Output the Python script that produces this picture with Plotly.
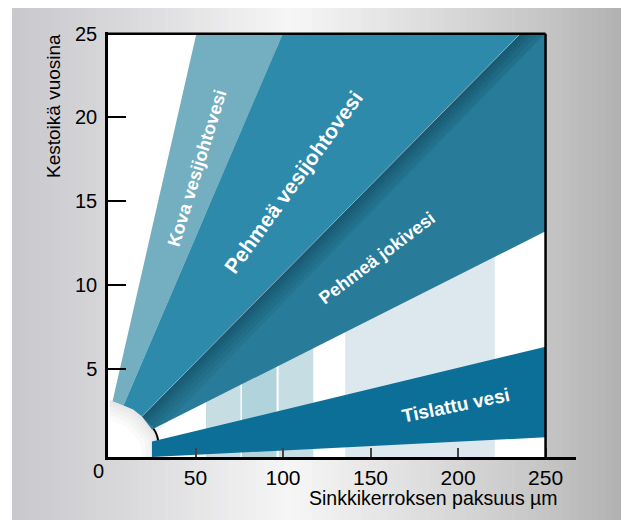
import plotly.graph_objects as go
import numpy as np

# ---------------- data ----------------
x_ticks = [50, 100, 150, 200, 250]
y_ticks = [5, 10, 15, 20, 25]

# background pale bands (x ranges, colours)
band_x0 = [56.0, 76.5, 97.5, 135.5]
band_x1 = [75.7, 96.3, 117.3, 221.0]
band_col = ["#c6dde4", "#b0d3dc", "#c6dde4", "#dce8ee"]

# wedges (polygon vertices in data units)
kova_x = [2.6, 50.5, 99.9, 8.85]
kova_y = [3.05, 25.0, 25.0, 2.8]
pveden_x = [8.85, 99.9, 235.6, 19.4, 14.3]
pveden_y = [2.8, 25.0, 25.0, 2.14, 2.56]
joki_x = [19.4, 235.6, 250.0, 250.0, 25.1]
joki_y = [2.14, 25.0, 25.0, 13.2, 1.36]
tisl_x = [25.1, 250.0, 250.0, 25.1]
tisl_y = [0.64, 6.3, 0.9, -0.28]

# inner arc near origin
arc_x = [1.0, 2.6, 8.85, 14.3, 19.4, 25.1, 27.6, 28.6, 29.2]
arc_y = [3.15, 3.05, 2.8, 2.56, 2.14, 1.36, 1.12, 0.72, -0.28]
blackarc_x = [25.4, 27.1, 28.3, 28.9]
blackarc_y = [1.47, 1.22, 0.88, 0.45]

labels = ["Kova vesijohtovesi", "Pehmeä vesijohtovesi", "Pehmeä jokivesi", "Tislattu vesi"]
lab_x = [50.8, 105.8, 153.8, 198.3]
lab_y = [17.0, 16.1, 11.6, 2.8]
lab_ang = [-73, -54, -37, -11.5]
lab_size = [18, 21, 18, 19]

colors = {"kova": "#73aec1", "pv": "#2e8aab", "joki": "#287c99", "tisl": "#0c6f97"}

# ---------------- geometry of figure ----------------
W, H = 629, 520
OFF = 8  # page body margin
ML, MR, MT, MB = 100, 61, 24, 71
XR = [0, 267.4]
YR = [-0.28, 25.1]
pw = W - ML - MR
ph = H - MT - MB
pxu = pw / (XR[1] - XR[0])
pyu = ph / (YR[1] - YR[0])

def px2paper_x(px):  # px = screenshot pixel
    return (px - OFF - ML) / pw

def py2paper_y(py):
    return (H - MB - (py - OFF)) / ph

fig = go.Figure()
shapes = []

# gradient background panel (strips)
stops_px = [12, 120, 290, 400, 550, 629]
stops_g = [(200, 200, 205), (216, 216, 219), (246, 246, 246), (226, 226, 226), (196, 196, 196), (176, 176, 176)]
N = 90
xs = np.linspace(12, 640, N + 1)
for i in range(N):
    xm = (xs[i] + xs[i + 1]) / 2
    c = [np.interp(xm, stops_px, [s[k] for s in stops_g]) for k in range(3)]
    shapes.append(dict(type="rect", xref="paper", yref="paper",
                       x0=px2paper_x(xs[i]), x1=px2paper_x(xs[i + 1] + 1.0),
                       y0=py2paper_y(540), y1=py2paper_y(8),
                       fillcolor="rgb(%d,%d,%d)" % tuple(int(round(v)) for v in c),
                       line=dict(width=0), layer="below"))

# white plot box
shapes.append(dict(type="rect", xref="x", yref="y", x0=0, x1=250, y0=YR[0], y1=25,
                   fillcolor="white", line=dict(width=0), layer="below"))
# pale bands
for a, b, c in zip(band_x0, band_x1, band_col):
    shapes.append(dict(type="rect", xref="x", yref="y", x0=a, x1=b, y0=YR[0], y1=25,
                       fillcolor=c, line=dict(width=0), layer="below"))

# origin shadow
cx, cy = 0.0, YR[0]
ax = np.array(arc_x); ay = np.array(arc_y)
for s in [0.95, 0.89, 0.82, 0.74, 0.65]:
    sx = cx + s * (ax - cx)
    sy = cy + s * (ay - cy)
    fig.add_trace(go.Scatter(x=list(ax) + list(sx[::-1]), y=list(ay) + list(sy[::-1]),
                             fill="toself", fillcolor="rgba(0,0,0,0.02)", mode="none",
                             hoverinfo="skip", showlegend=False))

fig.add_trace(go.Scatter(x=blackarc_x, y=blackarc_y, mode="lines", line=dict(color="black", width=2, shape="spline"),
                         hoverinfo="skip", showlegend=False))

def poly(xv, yv, col):
    fig.add_trace(go.Scatter(x=xv + [xv[0]], y=yv + [yv[0]], fill="toself", fillcolor=col,
                             mode="lines", line=dict(width=0, color=col), hoverinfo="skip", showlegend=False))

poly(kova_x, kova_y, colors["kova"])
poly(pveden_x, pveden_y, colors["pv"])
poly(joki_x, joki_y, colors["joki"])

# shadow along upper edge of the dark wedge
A = (joki_x[0], joki_y[0]); B = (joki_x[1], joki_y[1])
dxp, dyp = (B[0] - A[0]) * pxu, -(B[1] - A[1]) * pyu
L = np.hypot(dxp, dyp)
nxp, nyp = -dyp / L, dxp / L
if nxp < 0:
    nxp, nyp = -nxp, -nyp
for d in [3, 6, 9, 13, 17, 22]:
    ox, oy = nxp * d / pxu, -nyp * d / pyu
    t = -oy / (B[1] - A[1])
    bx = min(B[0] + ox + t * (B[0] - A[0]), 250)
    fig.add_trace(go.Scatter(x=[A[0], B[0], bx, A[0] + ox, A[0]], y=[A[1], B[1], 25, A[1] + oy, A[1]],
                             fill="toself", fillcolor="rgba(5,30,45,0.065)", mode="none",
                             hoverinfo="skip", showlegend=False))
fig.add_trace(go.Scatter(x=[A[0], B[0]], y=[A[1], B[1]], mode="lines",
                         line=dict(color="rgba(255,255,255,0.35)", width=1), hoverinfo="skip", showlegend=False))

poly(tisl_x, tisl_y, colors["tisl"])

# frame lines
shapes.append(dict(type="line", xref="x", yref="y", x0=0, x1=250, y0=25, y1=25,
                   line=dict(color="black", width=2.5), layer="above"))
shapes.append(dict(type="line", xref="x", yref="y", x0=250, x1=250, y0=YR[0], y1=25,
                   line=dict(color="black", width=2.5), layer="above"))

ann = []
for t_, x_, y_, a_, s_ in zip(labels, lab_x, lab_y, lab_ang, lab_size):
    ann.append(dict(text="<b>%s</b>" % t_, x=x_, y=y_, xref="x", yref="y", showarrow=False,
                    xanchor="center", yanchor="middle",
                    textangle=a_, font=dict(color="white", size=s_, family="Liberation Sans, Arial")))
ann.append(dict(text="0", x=0, y=YR[0], xref="x", yref="y", xanchor="right", yanchor="top",
                xshift=-2, yshift=-1, showarrow=False, font=dict(size=20, color="black")))
ann.append(dict(text="Kestoikä vuosina", x=px2paper_x(54), y=py2paper_y(106), xref="paper", yref="paper",
                xanchor="center", yanchor="middle",
                textangle=-90, showarrow=False, font=dict(size=19, color="black")))
ann.append(dict(text="Sinkkikerroksen paksuus µm", x=px2paper_x(433.5), y=py2paper_y(498),
                xref="paper", yref="paper", xanchor="center", yanchor="middle",
                showarrow=False, font=dict(size=19.5, color="black")))

fig.update_layout(
    width=W, height=H,
    margin=dict(l=ML, r=MR, t=MT, b=MB),
    paper_bgcolor="white", plot_bgcolor="rgba(0,0,0,0)",
    font=dict(family="Liberation Sans, Arial, sans-serif", color="black"),
    shapes=shapes, annotations=ann, showlegend=False,
    xaxis=dict(range=XR, showgrid=False, zeroline=False, showline=True, linecolor="black", linewidth=2.5,
               tickvals=x_ticks, ticks="inside", ticklen=9, tickwidth=2, tickcolor="#444",
               tickfont=dict(size=21), ticklabelstandoff=0, automargin=False),
    yaxis=dict(range=YR, showgrid=False, zeroline=False, showline=True, linecolor="black", linewidth=2.5,
               tickvals=y_ticks, ticks="inside", ticklen=18, tickwidth=2, tickcolor="black",
               tickfont=dict(size=20), ticklabelstandoff=4, automargin=False),
)

fig.write_html("out.html")
